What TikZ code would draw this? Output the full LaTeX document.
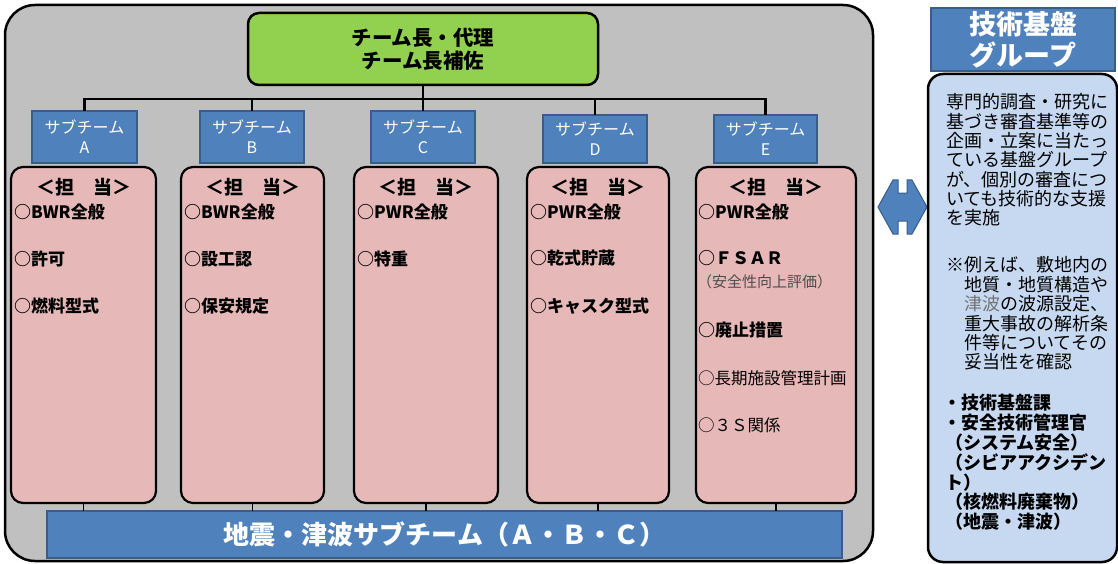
\documentclass[tikz,border=0pt]{standalone}
\usepackage{fontspec}
\setmainfont{Noto Sans CJK JP}
\definecolor{grayfill}{HTML}{C0C0C0}
\definecolor{leadgreen}{HTML}{92D050}
\definecolor{blu}{HTML}{4F81BD}
\definecolor{bluedge}{HTML}{385D8A}
\definecolor{pinkfill}{HTML}{E6B9B8}
\definecolor{lblue}{HTML}{C6D9F1}
\newcommand\fsz[1]{\fontsize{#1}{#1}\selectfont}
\tikzset{
  outerbox/.style={draw=black, line width=2.5pt, fill=grayfill, rounded corners=30pt, inner sep=0pt, outer sep=0pt},
  leadbox/.style={draw=black, line width=2.5pt, fill=leadgreen, rounded corners=11pt, inner sep=0pt, outer sep=0pt, align=center, font=\fsz{20.5}\bfseries},
  subbox/.style={draw=bluedge, line width=1.2pt, fill=blu, inner sep=0pt, outer sep=0pt, text=white, align=center, font=\fontsize{16}{20}\selectfont, minimum width=104pt},
  pinkbox/.style={draw=black, line width=2.2pt, fill=pinkfill, rounded corners=12pt, inner sep=0pt, outer sep=0pt, minimum height=336pt},
  tree/.style={draw=black, line width=2.6pt},
  drop/.style={draw=black, line width=1.6pt},
  headtxt/.style={inner sep=0pt, font=\fsz{19}\bfseries},
  itemtxt/.style={inner sep=0pt, anchor=west, font=\fsz{17}\bfseries},
  thintxt/.style={inner sep=0pt, anchor=west, font=\fsz{16.5}},
  notetxt/.style={inner sep=0pt, anchor=west, font=\fsz{15}, text=black!70},
  seisbox/.style={draw=bluedge, line width=1.2pt, fill=blu, inner sep=0pt, outer sep=0pt, text=white, font=\fsz{26}\bfseries},
  titlebox/.style={draw=bluedge, line width=1.2pt, fill=blu, inner sep=0pt, outer sep=0pt, text=white, align=center, font=\fontsize{27}{31}\selectfont\bfseries},
  panelbox/.style={draw=black, line width=2.5pt, fill=lblue, rounded corners=15pt, inner sep=0pt, outer sep=0pt},
  paneltxt/.style={inner sep=0pt, anchor=west, font=\fsz{18}},
  panelbold/.style={inner sep=0pt, anchor=west, font=\fsz{18}\bfseries},
  arrowshape/.style={draw=bluedge, line width=1pt, fill=blu},
}
\begin{document}
\begin{tikzpicture}[x=1pt,y=-1pt]
\useasboundingbox (0,0) rectangle (1118,564);
% outer gray area
\node[outerbox, minimum width=868pt, minimum height=556pt] (outer) at (439,283) {};
% leader
\node[leadbox, minimum width=350pt, minimum height=72pt] (lead) at (423,49) {チーム長・代理\\[2pt]チーム長補佐};
% subteams
\node[subbox, minimum width=105pt, minimum height=52pt] (sA) at (84.5,137) {サブチーム\\A};
\node[subbox, minimum height=52pt] (sB) at (252,137) {サブチーム\\B};
\node[subbox, minimum height=52pt] (sC) at (423,137) {サブチーム\\C};
\node[subbox, minimum height=48pt] (sD) at (595,139) {サブチーム\\D};
\node[subbox, minimum width=103pt, minimum height=48pt] (sE) at (765.5,139) {サブチーム\\E};
% tree
\coordinate (bar) at (0,99);
\draw[tree] (sA.north) -- (sA.north |- bar) -- (sE.north |- bar) -- (sE.north);
\draw[tree] (sB.north) -- (sB.north |- bar);
\draw[tree] (sD.north) -- (sD.north |- bar);
\draw[tree] (lead.south) -- (sC.north);
% pink boxes
\node[pinkbox, minimum width=145pt] (pA) at (83.5,335) {};
\node[pinkbox, minimum width=143pt] (pB) at (252.5,335) {};
\node[pinkbox, minimum width=144pt] (pC) at (426,335) {};
\node[pinkbox, minimum width=142pt] (pD) at (598,335) {};
\node[pinkbox, minimum width=160pt] (pE) at (776,335) {};
% bottom bar
\node[seisbox, minimum width=795pt, minimum height=47pt] (seis) at (444.5,534.5) {地震・津波サブチーム（Ａ・Ｂ・Ｃ）};
\foreach \p in {pA,pB,pC,pD,pE} \draw[drop] (\p.south) -- (\p.south |- seis.north);
% headings
\node[headtxt] (hA) at (pA.center |- 0,187) {＜担　当＞};
\node[headtxt] (hB) at (pB.center |- 0,187) {＜担　当＞};
\node[headtxt] (hC) at (pC.center |- 0,187) {＜担　当＞};
\node[headtxt] (hD) at (pD.center |- 0,187) {＜担　当＞};
\node[headtxt] (hE) at (pE.center |- 0,187) {＜担　当＞};
% items A
\node[itemtxt] (a1) at (14,212) {○BWR全般};
\node[itemtxt] (a2) at (14,259) {○許可};
\node[itemtxt] (a3) at (14,306) {○燃料型式};
% items B
\node[itemtxt] (b1) at (184,212) {○BWR全般};
\node[itemtxt] (b2) at (184,259) {○設工認};
\node[itemtxt] (b3) at (184,306) {○保安規定};
% items C
\node[itemtxt] (c1) at (357,212) {○PWR全般};
\node[itemtxt] (c2) at (357,259) {○特重};
% items D
\node[itemtxt] (d1) at (530,212) {○PWR全般};
\node[itemtxt] (d2) at (530,258) {○乾式貯蔵};
\node[itemtxt] (d3) at (530,306) {○キャスク型式};
% items E
\node[itemtxt] (e1) at (698,212) {○PWR全般};
\node[itemtxt] (e2) at (698,258) {○ＦＳＡＲ};
\node[notetxt] (e3) at (697,282) {（安全性向上評価）};
\node[itemtxt] (e4) at (698,330) {○廃止措置};
\node[thintxt] (e5) at (698,378) {○長期施設管理計画};
\node[thintxt] (e6) at (698,425) {○３Ｓ関係};
% double arrow
\draw[arrowshape] (878,207) -- (893,180) -- (898,180) -- (898,193) -- (907,193) -- (907,180) -- (912,180) -- (927,207) -- (912,234) -- (907,234) -- (907,221) -- (898,221) -- (898,234) -- (893,234) -- cycle;
% right panel
\node[titlebox, minimum width=184pt, minimum height=63pt] (title) at (1023,39.5) {技術基盤\\グループ};
\node[panelbox, minimum width=189pt, minimum height=488pt] (panel) at (1022.5,318) {};
\node[paneltxt] (r1) at (946,102) {専門的調査・研究に};
\node[paneltxt] (r2) at (946,121.3) {基づき審査基準等の};
\node[paneltxt] (r3) at (946,140.6) {企画・立案に当たっ};
\node[paneltxt] (r4) at (946,159.9) {ている基盤グループ};
\node[paneltxt] (r5) at (946,179.2) {が、個別の審査につ};
\node[paneltxt] (r6) at (946,198.5) {いても技術的な支援};
\node[paneltxt] (r7) at (946,217.8) {を実施};
\node[paneltxt] (r8) at (946,265) {※例えば、敷地内の};
\node[paneltxt] (r9) at (964,284.4) {地質・地質構造や};
\node[paneltxt] (r10) at (964,303.8) {{\color{black!55}津波}の波源設定、};
\node[paneltxt] (r11) at (964,323.2) {重大事故の解析条};
\node[paneltxt] (r12) at (964,342.6) {件等についてその};
\node[paneltxt] (r13) at (964,362) {妥当性を確認};
\node[panelbold] (r14) at (943,403) {・技術基盤課};
\node[panelbold] (r15) at (943,422.8) {・安全技術管理官};
\node[panelbold] (r16) at (945,442.6) {（システム安全）};
\node[panelbold] (r17) at (945,462.4) {（シビアアクシデン};
\node[panelbold] (r18) at (945,482.2) {ト）};
\node[panelbold] (r19) at (945,502) {（核燃料廃棄物）};
\node[panelbold] (r20) at (945,521.8) {（地震・津波）};
\end{tikzpicture}
\end{document}
